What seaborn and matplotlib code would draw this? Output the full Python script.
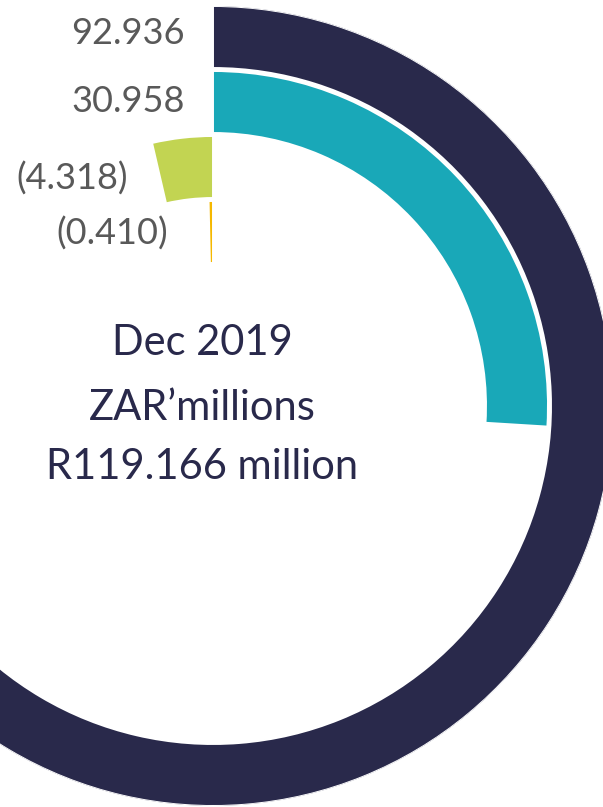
import numpy as np
import pandas as pd
import matplotlib
matplotlib.use("Agg")
import matplotlib.pyplot as plt
import seaborn as sns

# ---- data ----
series = ["Series 1", "Series 2", "Series 3", "Series 4"]
values = [92.936, 30.958, -4.318, -0.410]
value_labels = ["92.936", "30.958", "(4.318)", "(0.410)"]
total = 119.166
title_lines = ["Dec 2019", "ZAR\u2019millions", "R119.166 million"]

colors = ["#29294B", "#19A8B8", "#C2D452", "#F5B800"]

sns.set_theme(style="white")
plt.rcParams["font.family"] = ["Lato", "DejaVu Sans"]

W, H = 603, 807
fig = plt.figure(figsize=(W / 100, H / 100), dpi=100)
cx, cy = 213, 807 - 406  # centre in pixels (from bottom)
R = 400
ax = fig.add_axes([(cx - R) / W, (cy - R) / H, 2 * R / W, 2 * R / H],
                  projection="polar")
ax.set_theta_zero_location("N")
ax.set_theta_direction(-1)

df = pd.DataFrame({
    "series": series,
    "theta": np.array(values) / total * 2 * np.pi,
})

sns.barplot(data=df, x="theta", y="series", hue="series", palette=colors,
            orient="h", order=series, hue_order=series, dodge=False,
            errorbar=None, legend=False, width=62 / 65, saturation=1,
            edgecolor="white", linewidth=1.4, ax=ax)

# radial mapping: outermost ring centre at 369 px, spacing 65 px
ax.set_rlim(369 / 65, -31 / 65)
ax.set_thetalim(0, 2 * np.pi)
ax.set_axis_off()

offsets = [(-28, 3), (-28, 0), (-31, -5), (-41, -2)]
for i, (t, lab) in enumerate(zip(df["theta"], value_labels)):
    ax.annotate(lab, xy=(min(t, 0), i), xytext=offsets[i],
                textcoords="offset pixels", ha="right", va="center",
                fontsize=26, color="#595959", annotation_clip=False)

for line, ypx in zip(title_lines, [343, 408, 467]):
    fig.text(202 / W, 1 - ypx / H, line, ha="center", va="center",
             fontsize=30, color="#29294B")

fig.savefig("out.png", dpi=100)
